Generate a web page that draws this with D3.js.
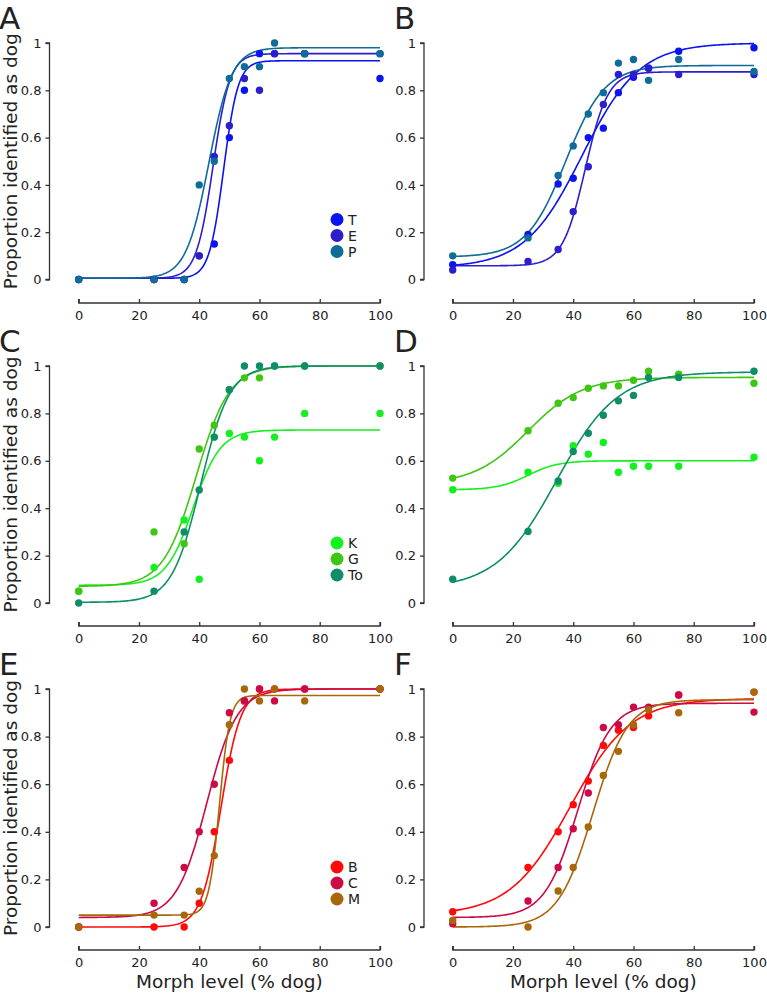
<!DOCTYPE html>
<html><head><meta charset="utf-8">
<script src="https://cdn.jsdelivr.net/npm/d3@7"></script>
<style>
body{margin:0;background:#fff}
svg{display:block}
text{font-family:"DejaVu Sans",sans-serif;fill:#222}
</style>
</head><body>
<svg id="chart" width="767" height="993"></svg>
<script>
// ---- data ----
const morph = [0, 25, 35, 40, 45, 50, 55, 60, 65, 75, 100];
const xTicks = [0, 20, 40, 60, 80, 100];
const yTicks = [0, 0.2, 0.4, 0.6, 0.8, 1];
const yTickLabels = ["0", "0.2", "0.4", "0.6", "0.8", "1"];
const panelLetters = ["A", "B", "C", "D", "E", "F"];
const xLabel = "Morph level (% dog)";
const yLabel = "Proportion identified as dog";

const namesBlue = ["T", "E", "P"];
const namesGreen = ["K", "G", "To"];
const namesRed = ["B", "C", "M"];
const colorsBlue = ["#0a14f0", "#2c1ecc", "#0f6c98"];
const colorsGreen = ["#14f01e", "#3fc614", "#0f8c68"];
const colorsRed = ["#ff0a0a", "#cc0a46", "#a8680a"];

// Panel A
const A_T = [0, 0, 0, 0.10, 0.15, 0.60, 0.80, 0.955, 0.955, 0.955, 0.85];
const A_E = [0, 0, 0, 0.10, 0.52, 0.65, 0.85, 0.80, 0.955, 0.955, 0.955];
const A_P = [0, 0, 0, 0.40, 0.50, 0.85, 0.90, 0.90, 1.0, 0.955, 0.955];
// logistic fits: [lower, upper, midpoint, spread]
const fitA_T = [0.005, 0.925, 48.1, 2.4];
const fitA_E = [0.005, 0.955, 44.6, 2.8];
const fitA_P = [0.005, 0.98, 43.2, 3.8];

// Panel B
const B_T = [0.063, 0.19, 0.404, 0.428, 0.60, 0.64, 0.79, 0.855, 0.893, 0.965, 0.98];
const B_E = [0.04, 0.076, 0.127, 0.287, 0.477, 0.74, 0.867, 0.867, 0.893, 0.867, 0.867];
const B_P = [0.10, 0.176, 0.44, 0.565, 0.70, 0.79, 0.915, 0.93, 0.842, 0.93, 0.88];
const fitB_T = [0.05, 1.0, 43, 9.5];
const fitB_E = [0.058, 0.878, 44, 3.76];
const fitB_P = [0.095, 0.905, 37.5, 6.5];

// Panel C
const C_K = [0.05, 0.15, 0.35, 0.10, 0.70, 0.715, 0.70, 0.60, 0.70, 0.80, 0.80];
const C_G = [0.05, 0.30, 0.25, 0.65, 0.75, 0.90, 0.95, 0.95, 1.0, 1.0, 1.0];
const C_To = [0, 0.05, 0.30, 0.477, 0.70, 0.90, 1.0, 1.0, 1.0, 1.0, 1.0];
const fitC_K = [0.075, 0.73, 38, 4.5];
const fitC_G = [0.07, 1.0, 39, 5.5];
const fitC_To = [0.003, 1.0, 40.5, 4.8];

// Panel D
const D_K = [0.478, 0.552, 0.505, 0.664, 0.628, 0.677, 0.552, 0.577, 0.577, 0.577, 0.615];
const D_G = [0.527, 0.727, 0.843, 0.867, 0.906, 0.916, 0.916, 0.94, 0.978, 0.965, 0.927];
const D_To = [0.10, 0.302, 0.515, 0.639, 0.716, 0.792, 0.853, 0.876, 0.952, 0.952, 0.978];
const fitD_K = [0.478, 0.60, 25, 5];
const fitD_G = [0.5, 0.952, 25, 9];
const fitD_To = [0.06, 0.975, 34.5, 10];

// Panel E
const E_B = [0, 0, 0, 0.10, 0.40, 0.70, 0.95, 1.0, 1.0, 1.0, 1.0];
const E_C = [0, 0.10, 0.25, 0.40, 0.60, 0.90, 0.95, 1.0, 0.95, 1.0, 1.0];
const E_M = [0, 0.05, 0.05, 0.15, 0.30, 0.85, 1.0, 0.95, 1.0, 0.95, 1.0];
const fitE_B = [0, 1.0, 47.2, 3.28];
const fitE_C = [0.04, 1.0, 42.5, 5];
const fitE_M = [0.05, 0.973, 46.7, 1.75];

// Panel F
const F_B = [0.064, 0.25, 0.40, 0.514, 0.613, 0.763, 0.827, 0.838, 0.887, 0.975, 0.987];
const F_C = [0.014, 0.109, 0.25, 0.413, 0.563, 0.838, 0.85, 0.924, 0.924, 0.975, 0.903];
const F_M = [0.027, 0, 0.151, 0.25, 0.42, 0.637, 0.738, 0.85, 0.913, 0.90, 0.987];
const fitF_B = [0.05, 0.96, 39, 10];
const fitF_C = [0.04, 0.94, 41.5, 5.47];
const fitF_M = [0, 0.955, 46.5, 5.8];

// ---- layout ----
const colX = [{axis: 49.5, x0: 78.7, x1: 380}, {axis: 424, x0: 452.7, x1: 754}];
const rowY = [{y1: 43, y0: 279.5, xaxis: 303}, {y1: 366, y0: 603, xaxis: 626}, {y1: 689, y0: 927, xaxis: 950}];

const panels = [
  {letter: 0, col: 0, row: 0, names: namesBlue, colors: colorsBlue, vals: [A_T, A_E, A_P], fits: [fitA_T, fitA_E, fitA_P], legend: true},
  {letter: 1, col: 1, row: 0, names: namesBlue, colors: colorsBlue, vals: [B_T, B_E, B_P], fits: [fitB_T, fitB_E, fitB_P], legend: false},
  {letter: 2, col: 0, row: 1, names: namesGreen, colors: colorsGreen, vals: [C_K, C_G, C_To], fits: [fitC_K, fitC_G, fitC_To], legend: true},
  {letter: 3, col: 1, row: 1, names: namesGreen, colors: colorsGreen, vals: [D_K, D_G, D_To], fits: [fitD_K, fitD_G, fitD_To], legend: false},
  {letter: 4, col: 0, row: 2, names: namesRed, colors: colorsRed, vals: [E_B, E_C, E_M], fits: [fitE_B, fitE_C, fitE_M], legend: true},
  {letter: 5, col: 1, row: 2, names: namesRed, colors: colorsRed, vals: [F_B, F_C, F_M], fits: [fitF_B, fitF_C, fitF_M], legend: false}
];

const svg = d3.select("#chart");
const logistic = (f, x) => f[0] + (f[1] - f[0]) / (1 + Math.exp(-(x - f[2]) / f[3]));
const xs = d3.range(0, 100.01, 0.5);

panels.forEach(p => {
  const c = colX[p.col], r = rowY[p.row];
  const x = d3.scaleLinear().domain([0, 100]).range([c.x0, c.x1]);
  const y = d3.scaleLinear().domain([0, 1]).range([r.y0, r.y1]);
  const g = svg.append("g");

  // y axis
  const ya = g.append("g").attr("transform", `translate(${c.axis},0)`)
    .call(d3.axisLeft(y).tickValues(yTicks).tickFormat((d, i) => yTickLabels[i]).tickSize(4).tickPadding(4));
  ya.select(".domain").attr("d", `M-4,${y(0)}H0V${y(1)}H-4`);
  // x axis
  const xa = g.append("g").attr("transform", `translate(0,${r.xaxis})`)
    .call(d3.axisBottom(x).tickValues(xTicks).tickSize(0).tickPadding(8));
  xa.select(".domain").attr("d", `M${x(0)},-4V0H${x(100)}V-4`);
  xa.selectAll(".tick line").attr("y2", -4);
  [ya, xa].forEach(a => {
    a.select(".domain").attr("stroke", "#333").attr("stroke-width", 1.3);
    a.selectAll(".tick line").attr("stroke", "#333").attr("stroke-width", 1.3);
    a.selectAll(".tick text").attr("font-size", 13).attr("fill", "#222")
      .attr("font-family", '"DejaVu Sans",sans-serif');
  });

  // fitted curves
  p.fits.forEach((f, k) => {
    g.append("path")
      .attr("d", d3.line().x(d => x(d)).y(d => y(logistic(f, d)))(xs))
      .attr("fill", "none").attr("stroke", p.colors[k]).attr("stroke-width", 1.6);
  });
  // points
  p.vals.forEach((v, k) => {
    g.selectAll(null).data(v).enter().append("circle")
      .attr("cx", (d, i) => x(morph[i])).attr("cy", d => y(d))
      .attr("r", 3.7).attr("fill", p.colors[k]);
  });

  // panel letter
  g.append("text").attr("x", p.col === 0 ? -1 : 394).attr("y", r.y1 - 14)
    .attr("font-size", 31).attr("fill", "#000").text(panelLetters[p.letter]);

  // y label
  if (p.col === 0) {
    g.append("text").attr("transform", `translate(17,${(y(0) + y(1)) / 2}) rotate(-90)`)
      .attr("text-anchor", "middle").attr("font-size", 18.5).attr("fill", "#111").text(yLabel);
  }
  // x label
  if (p.row === 2) {
    g.append("text").attr("x", (x(0) + x(100)) / 2).attr("y", 988)
      .attr("text-anchor", "middle").attr("font-size", 18.5).attr("fill", "#111").text(xLabel);
  }

  // legend
  if (p.legend) {
    const lg = g.append("g").attr("transform", `translate(337,${r.y0 - 60})`);
    p.names.forEach((n, k) => {
      lg.append("circle").attr("cx", 0).attr("cy", k * 16).attr("r", 6.5).attr("fill", p.colors[k]);
      lg.append("text").attr("x", 11).attr("y", k * 16 + 5).attr("font-size", 14).attr("fill", "#222").text(n);
    });
  }
});
</script>
</body></html>
